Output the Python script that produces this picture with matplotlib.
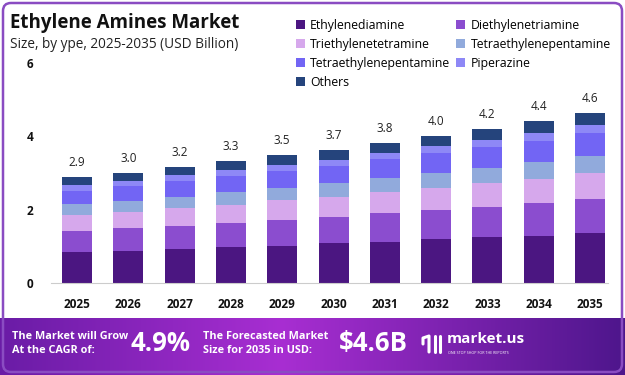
import numpy as np
import matplotlib.pyplot as plt
from matplotlib.patches import FancyBboxPatch

plt.rcParams['font.family'] = ['Open Sans', 'DejaVu Sans']

years = ["2025", "2026", "2027", "2028", "2029", "2030", "2031", "2032", "2033", "2034", "2035"]
totals = [2.9, 3.0, 3.2, 3.3, 3.5, 3.7, 3.8, 4.0, 4.2, 4.4, 4.6]

ethylenediamine = [0.84, 0.87, 0.93, 0.97, 1.02, 1.08, 1.13, 1.19, 1.25, 1.29, 1.37]
diethylenetriamine = [0.59, 0.62, 0.63, 0.67, 0.70, 0.72, 0.77, 0.80, 0.83, 0.90, 0.93]
triethylenetetramine = [0.43, 0.45, 0.48, 0.50, 0.54, 0.54, 0.59, 0.61, 0.65, 0.66, 0.69]
tepa_light = [0.30, 0.30, 0.31, 0.33, 0.34, 0.38, 0.38, 0.41, 0.41, 0.44, 0.47]
tepa = [0.36, 0.40, 0.44, 0.45, 0.45, 0.48, 0.50, 0.53, 0.56, 0.58, 0.62]
piperazine = [0.16, 0.14, 0.15, 0.16, 0.18, 0.16, 0.18, 0.20, 0.21, 0.23, 0.23]
others = [0.21, 0.23, 0.23, 0.25, 0.25, 0.27, 0.27, 0.27, 0.29, 0.31, 0.32]

series = [
    ("Ethylenediamine", ethylenediamine, "#4b1681"),
    ("Diethylenetriamine", diethylenetriamine, "#8b4dcf"),
    ("Triethylenetetramine", triethylenetetramine, "#d6a8ec"),
    ("Tetraethylenepentamine", tepa_light, "#91aadc"),
    ("Tetraethylenepentamine", tepa, "#7265f4"),
    ("Piperazine", piperazine, "#8e88f6"),
    ("Others", others, "#25447c"),
]

fig = plt.figure(figsize=(6.25, 3.75), dpi=100)

# background + bottom banner gradient
bg = fig.add_axes([0, 0, 1, 1], zorder=0)
bg.set_xlim(0, 625)
bg.set_ylim(375, 0)
bg.axis("off")
grad = np.linspace(0, 1, 256)
left = np.array([0x6a, 0x1c, 0xa6]) / 255
mid = np.array([0xa8, 0x2e, 0xd2]) / 255
right = np.array([0x4e, 0x16, 0x8c]) / 255
cols = np.array([left + (mid - left) * (g / 0.45) if g < 0.45 else mid + (right - mid) * ((g - 0.45) / 0.55) for g in grad])
bg.imshow(cols[np.newaxis, :, :], extent=[0, 625, 375, 318], aspect="auto", zorder=1)
bg.add_patch(FancyBboxPatch((3, 3), 619, 369, boxstyle="round,pad=0,rounding_size=8",
                            fill=False, ec="#8a4cc2", lw=1.8, zorder=3))

fig.text(0.016, 0.926, "Ethylene Amines Market", fontsize=13.5, fontweight="bold", color="#111111")
fig.text(0.016, 0.873, "Size, by ype, 2025-2035 (USD Billion)", fontsize=9.8, color="#222222")

ax = fig.add_axes([0.0822, 0.2453, 0.8906, 0.5867], zorder=2)
ax.patch.set_alpha(0)
x = np.arange(len(years))
bottom = np.zeros(len(years))
handles = []
for name, vals, color in series:
    h = ax.bar(x, vals, width=0.585, bottom=bottom, color=color, label=name)
    handles.append(h)
    bottom += np.array(vals)

for xi, tot, b in zip(x, totals, bottom):
    ax.text(xi, b + 0.22, f"{tot:.1f}", ha="center", va="bottom", fontsize=8.5, color="#222222")

ax.set_xlim(-0.5, 10.35)
ax.set_ylim(0, 6)
ax.set_yticks([0, 2, 4, 6])
ax.set_xticks(x)
ax.set_xticklabels(years)
for s in ["top", "right", "left"]:
    ax.spines[s].set_visible(False)
ax.spines["bottom"].set_color("#cccccc")
ax.tick_params(axis="both", length=0, labelsize=8.5)
ax.tick_params(axis="y", pad=13)
ax.tick_params(axis="x", pad=11)
for lab in ax.get_xticklabels() + ax.get_yticklabels():
    lab.set_fontweight("bold")
    lab.set_color("#111111")

order = [0, 2, 4, 6, 1, 3, 5]
fig.legend([handles[i] for i in order], [series[i][0] for i in order], ncol=2,
           loc="upper left", bbox_to_anchor=(0.465, 0.963), frameon=False,
           fontsize=8.8, handlelength=0.75, handleheight=0.75, handletextpad=0.45,
           columnspacing=0.45, labelspacing=0.5, borderaxespad=0)

# banner texts
fig.text(0.019, 0.083, "The Market will Grow\nAt the CAGR of:", fontsize=7.8, fontweight="bold",
         color="white", va="center", linespacing=1.4)
fig.text(0.257, 0.083, "4.9%", fontsize=18.5, fontweight="bold", color="white", va="center", ha="center")
fig.text(0.325, 0.083, "The Forecasted Market\nSize for 2035 in USD:", fontsize=7.8, fontweight="bold",
         color="white", va="center", linespacing=1.4)
fig.text(0.597, 0.083, "$4.6B", fontsize=18.5, fontweight="bold", color="white", va="center", ha="center")
fig.text(0.714, 0.095, "market.us", fontsize=11, fontweight="bold", color="white", va="center")
fig.text(0.716, 0.058, "ONE STOP SHOP FOR THE REPORTS", fontsize=2.6, color="white", va="center")
bg.plot([423, 423, 429, 429], [344, 338, 336, 352], color="white", lw=2.2, solid_capstyle="round", zorder=4)
bg.plot([435, 435], [336, 352], color="white", lw=2.2, solid_capstyle="round", zorder=4)
bg.plot([440, 440], [336, 352], color="white", lw=2.2, solid_capstyle="round", zorder=4)

fig.savefig("out.png", dpi=100)
